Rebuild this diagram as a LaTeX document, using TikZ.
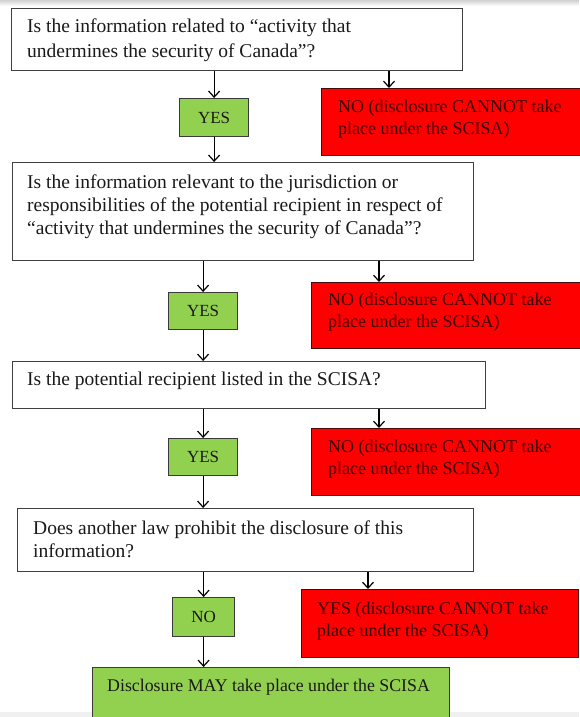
\documentclass[tikz,border=0pt]{standalone}
\usepackage{fontspec}
\setmainfont{Liberation Serif}
\usetikzlibrary{arrows.meta,calc}
\definecolor{qborder}{HTML}{404040}
\definecolor{okgreen}{HTML}{92D050}
\definecolor{okborder}{HTML}{3A3A3A}
\definecolor{nored}{HTML}{FF0000}
\definecolor{noborder}{HTML}{4A0A0A}
\definecolor{notext}{HTML}{3A0000}
\definecolor{qtext}{HTML}{1A1A1A}
\definecolor{stripgray}{HTML}{F0F0F0}
\tikzset{
  qbox/.style={draw=qborder, line width=1.3pt, fill=white, anchor=north west, inner sep=0pt},
  okbox/.style={draw=okborder, line width=1.2pt, fill=okgreen, anchor=north west, inner sep=0pt,
     font=\fontsize{17}{20}\selectfont, text=qtext},
  nobox/.style={draw=noborder, line width=1.2pt, fill=nored, anchor=north west, inner sep=0pt},
  qtxt/.style={anchor=base west, inner sep=0pt, text=qtext, font=\fontsize{19.5}{23}\selectfont},
  ntxt/.style={anchor=base west, inner sep=0pt, text=notext, font=\fontsize{18}{22.5}\selectfont},
  arr/.style={draw=black, line width=1.2pt, -{Straight Barb[length=6pt,width=11pt,line width=1.2pt]}},
}
\newcommand{\lines}[1]{\parbox[t]{460pt}{\raggedright #1}}
\begin{document}
\begin{tikzpicture}[x=1pt,y=-1pt]
\useasboundingbox (0,0) rectangle (579,717);
\shade[top color=black!18, bottom color=white] (0,0) rectangle (579,6);
\fill[stripgray] (0,712) rectangle (579,717);

% boxes
\node[qbox, minimum width=451pt, minimum height=62pt] (b1) at (11,8) {};
\node[okbox, minimum width=69pt, minimum height=38pt] (y1) at (179,98) {YES};
\node[nobox, minimum width=262pt, minimum height=67pt] (r1) at (321,88) {};

\node[qbox, minimum width=461pt, minimum height=98pt] (b2) at (12,162) {};
\node[okbox, minimum width=69pt, minimum height=37pt] (y2) at (168,292) {YES};
\node[nobox, minimum width=272pt, minimum height=66pt] (r2) at (311,282) {};

\node[qbox, minimum width=473pt, minimum height=47pt] (b3) at (12,361) {};
\node[okbox, minimum width=69pt, minimum height=37pt] (y3) at (168,438) {YES};
\node[nobox, minimum width=272pt, minimum height=67pt] (r3) at (311,428) {};

\node[qbox, minimum width=456pt, minimum height=63pt] (b4) at (17,508) {};
\node[okbox, minimum width=62pt, minimum height=39pt] (n4) at (172,597) {NO};
\node[nobox, minimum width=277pt, minimum height=68pt] (r4) at (301,589) {};

\node[okbox, minimum width=357pt, minimum height=60pt] (fin) at (92,667) {};

% texts
\node[qtxt] (t1) at (27,33) {\lines{Is the information related to “activity that\\[2pt]undermines the security of Canada”?}};
\node[qtxt] (t2) at (27,188) {\lines{Is the information relevant to the jurisdiction or\\responsibilities of the potential recipient in respect of\\“activity that undermines the security of Canada”?}};
\node[qtxt] (t3) at (27,385) {\lines{Is the potential recipient listed in the SCISA?}};
\node[qtxt] (t4) at (33,534) {\lines{Does another law prohibit the disclosure of this\\information?}};

\node[ntxt] (rt1) at (338,112) {\lines{NO (disclosure CANNOT take\\place under the SCISA)}};
\node[ntxt] (rt2) at (328,305) {\lines{NO (disclosure CANNOT take\\place under the SCISA)}};
\node[ntxt] (rt3) at (328,452) {\lines{NO (disclosure CANNOT take\\place under the SCISA)}};
\node[ntxt] (rt4) at (317,614) {\lines{YES (disclosure CANNOT take\\place under the SCISA)}};

\node[anchor=base west, inner sep=0pt, text=qtext, font=\fontsize{17.8}{22}\selectfont] (ft) at (107,691) {Disclosure MAY take place under the SCISA};

% connectors
\draw[arr] (y1.north |- b1.south) -- (y1.north);
\draw[arr] ([xshift=68pt]r1.north west |- b1.south) -- ([xshift=68pt]r1.north west);
\draw[arr] (y1.south) -- (y1.south |- b2.north);

\draw[arr] (y2.north |- b2.south) -- (y2.north);
\draw[arr] ([xshift=68pt]r2.north west |- b2.south) -- ([xshift=68pt]r2.north west);
\draw[arr] (y2.south) -- (y2.south |- b3.north);

\draw[arr] (y3.north |- b3.south) -- (y3.north);
\draw[arr] ([xshift=68pt]r3.north west |- b3.south) -- ([xshift=68pt]r3.north west);
\draw[arr] (y3.south) -- (y3.south |- b4.north);

\draw[arr] (n4.north |- b4.south) -- (n4.north);
\draw[arr] ([xshift=67pt]r4.north west |- b4.south) -- ([xshift=67pt]r4.north west);
\draw[arr] (n4.south) -- (n4.south |- fin.north);
\end{tikzpicture}
\end{document}
